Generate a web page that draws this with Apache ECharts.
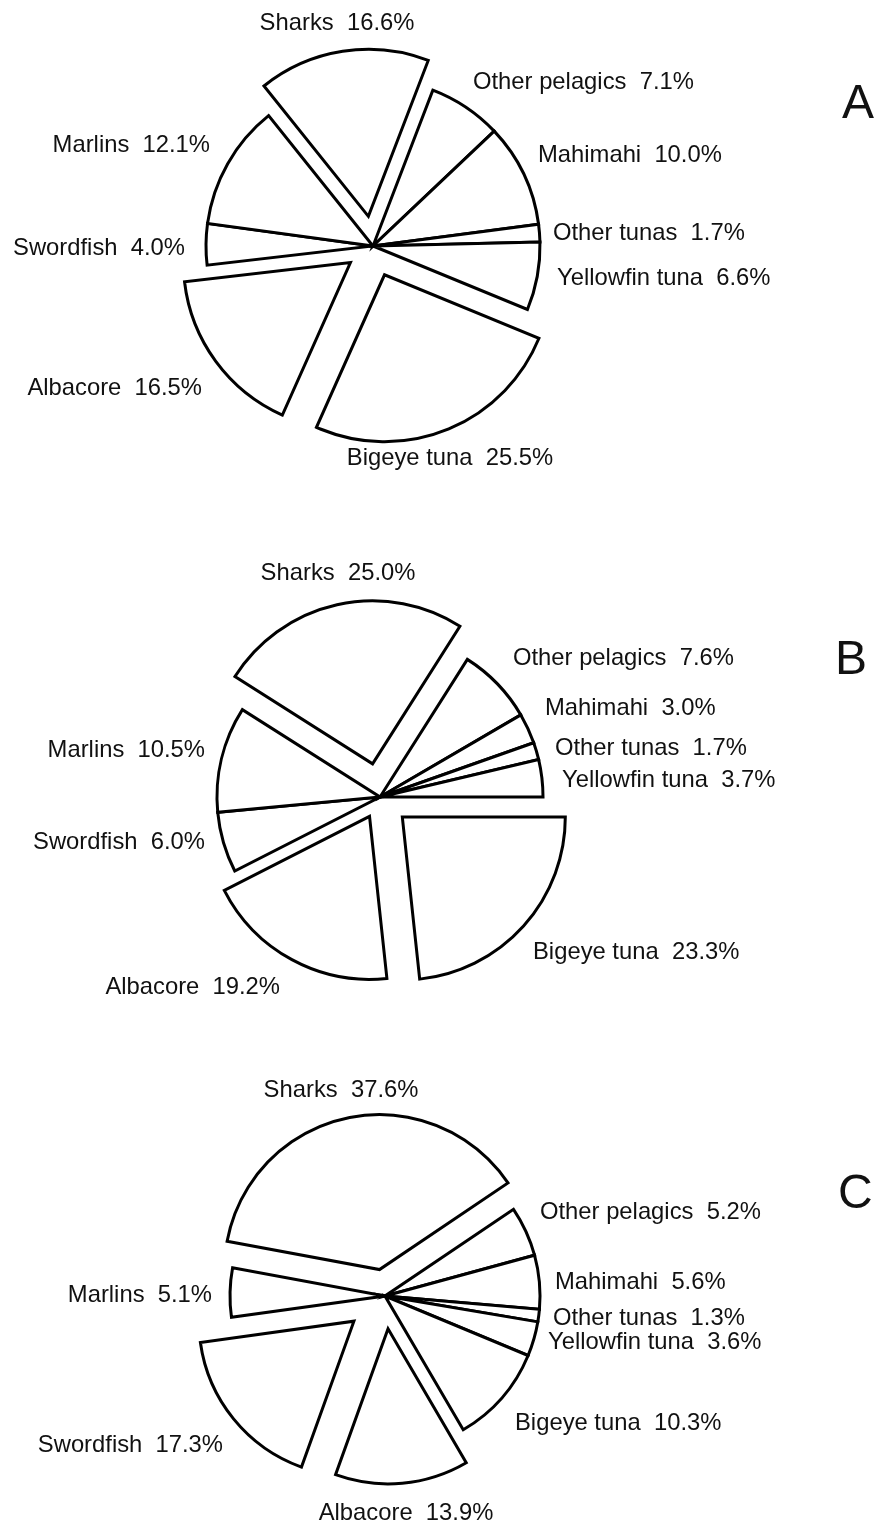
<!DOCTYPE html>
<html>
<head>
<meta charset="utf-8">
<script src="https://cdn.jsdelivr.net/npm/echarts@6/dist/echarts.min.js"></script>
<style>
  html, body { margin: 0; padding: 0; background: #ffffff; }
  #chart { width: 879px; height: 1527px; }
</style>
</head>
<body>
<div id="chart"></div>
<script>
// Catch composition (% of total) for three fishery periods, clockwise from the top-right slice.
const categories = ['Other pelagics', 'Mahimahi', 'Other tunas', 'Yellowfin tuna', 'Bigeye tuna', 'Albacore', 'Swordfish', 'Marlins', 'Sharks'];
const shareA = [7.1, 10.0, 1.7, 6.6, 25.5, 16.5, 4.0, 12.1, 16.6];
const shareB = [7.6, 3.0, 1.7, 3.7, 23.3, 19.2, 6.0, 10.5, 25.0];
const shareC = [5.2, 5.6, 1.3, 3.6, 10.3, 13.9, 17.3, 5.1, 37.6];
const panelLetters = ['A', 'B', 'C'];

const FONT = '"Liberation Sans", Arial, Helvetica, sans-serif';

// Layout of each pie: centre, radius, start angle, how far each slice is pulled out,
// and where its label sits relative to the pie centre.
const panels = [
  {
    values: shareA, center: [373, 246], radius: 167, startAngle: 69,
    explode: [0, 0, 0, 0, 31, 28, 0, 0, 30],
    labels: [[100, -164, 'left'], [165, -91, 'left'], [180, -13, 'left'], [184, 32, 'left'],
             [77, 212, 'center'], [-171, 142, 'right'], [-188, 2, 'right'], [-163, -101, 'right'], [-36, -223, 'center']],
    letterAt: [842, 107]
  },
  {
    values: shareB, center: [380, 797], radius: 163, startAngle: 57.6,
    explode: [0, 0, 0, 0, 30, 22, 0, 0, 34],
    labels: [[133, -139, 'left'], [165, -89, 'left'], [175, -49, 'left'], [182, -17, 'left'],
             [153, 155, 'left'], [-100, 190, 'right'], [-175, 45, 'right'], [-175, -47, 'right'], [-42, -224, 'center']],
    letterAt: [835, 663]
  },
  {
    values: shareC, center: [385, 1296], radius: 155, startAngle: 34,
    explode: [0, 0, 0, 0, 0, 33, 40, 0, 27],
    labels: [[155, -84, 'left'], [170, -14, 'left'], [168, 22, 'left'], [163, 46, 'left'],
             [130, 127, 'left'], [21, 217, 'center'], [-162, 149, 'right'], [-173, -1, 'right'], [-44, -206, 'center']],
    letterAt: [838, 1197]
  }
];

const sliceStyle = { color: '#ffffff', borderColor: '#000000', borderWidth: 3, borderJoin: 'miter' };
const hiddenStyle = { color: 'rgba(0,0,0,0)', borderColor: 'rgba(0,0,0,0)', borderWidth: 0 };

// mid-angle of every slice, in degrees clockwise from 12 o'clock
function midAngles(p) {
  const total = p.values.reduce(function (a, b) { return a + b; }, 0);
  let acc = 90 - p.startAngle;
  return p.values.map(function (v) {
    const span = v / total * 360;
    const mid = acc + span / 2;
    acc += span;
    return mid;
  });
}

const series = [];
panels.forEach(function (p) {
  const mids = midAngles(p);
  // one pie for the slices that stay in place, plus one per pulled-out slice
  const groups = [{ members: p.explode.map(function (e) { return e === 0; }), shift: [0, 0] }];
  p.explode.forEach(function (off, i) {
    if (off > 0) {
      const a = mids[i] * Math.PI / 180;
      groups.push({
        members: p.explode.map(function (_, j) { return j === i; }),
        shift: [off * Math.sin(a), -off * Math.cos(a)]
      });
    }
  });
  groups.forEach(function (g) {
    series.push({
      type: 'pie',
      center: [p.center[0] + g.shift[0], p.center[1] + g.shift[1]],
      radius: [0, p.radius],
      startAngle: p.startAngle,
      clockwise: true,
      animation: false,
      silent: true,
      avoidLabelOverlap: false,
      emphasis: { disabled: true },
      label: {
        show: true,
        position: 'outside',
        fontFamily: FONT,
        fontSize: 23.8,
        color: '#111111',
        formatter: function (prm) { return prm.name + '  ' + prm.value.toFixed(1) + '%'; }
      },
      labelLine: { show: false },
      labelLayout: function (prm) {
        const l = p.labels[prm.dataIndex];
        return { x: p.center[0] + l[0], y: p.center[1] + l[1], align: l[2], verticalAlign: 'middle' };
      },
      data: categories.map(function (name, i) {
        const mine = g.members[i];
        return {
          name: name,
          value: p.values[i],
          itemStyle: mine ? sliceStyle : hiddenStyle,
          label: { show: mine }
        };
      })
    });
  });
});

const chart = echarts.init(document.getElementById('chart'), null, { renderer: 'canvas' });
chart.setOption({
  backgroundColor: '#ffffff',
  title: panels.map(function (p, i) {
    return {
      text: panelLetters[i],
      left: p.letterAt[0],
      top: p.letterAt[1] - 26,
      padding: 0,
      textStyle: { fontFamily: FONT, fontSize: 48, fontWeight: 'normal', color: '#111111' }
    };
  }),
  series: series
});
</script>
</body>
</html>
